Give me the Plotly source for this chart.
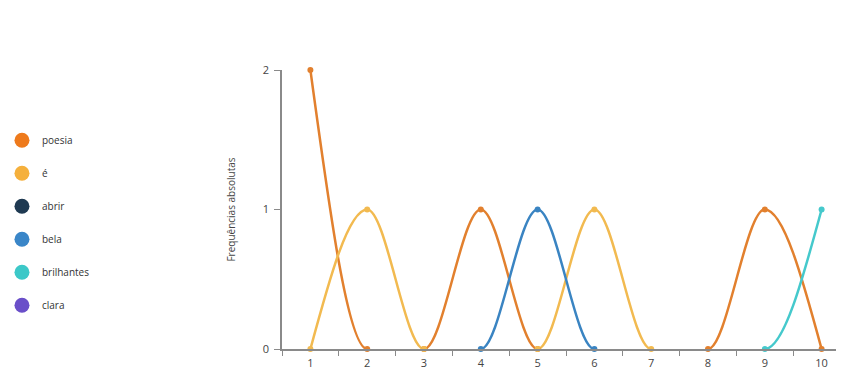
import plotly.graph_objects as go

# ---- data ----
positions = [1, 2, 3, 4, 5, 6, 7, 8, 9, 10]
position_labels = ["1", "2", "3", "4", "5", "6", "7", "8", "9", "10"]
series_names = ["poesia", "é", "abrir", "bela", "brilhantes", "clara"]
poesia = [2, 0, 0, 1, 0, 0, 0, 0, 1, 0]
e_word = [0, 1, 0, 0, 0, 1, 0, 0, 0, 0]
abrir = [0, 0, 0, 0, 0, 0, 0, 0, 0, 0]
bela = [0, 0, 0, 0, 1, 0, 0, 0, 0, 0]
brilhantes = [0, 0, 0, 0, 0, 0, 0, 0, 0, 1]
clara = [0, 0, 0, 0, 0, 0, 0, 0, 0, 0]
series_values = [poesia, e_word, abrir, bela, brilhantes, clara]
y_tick_values = [0, 1, 2]
y_title = "Frequências absolutas"

# ---- styles ----
line_colors = ["#E2802E", "#F2BA50", "#1F3A52", "#3A84C2", "#45C9CC", "#6A4FC9"]
legend_colors = ["#EE7A1C", "#F5B03C", "#1F3A52", "#3A86C8", "#3CC8C8", "#6A4FC9"]


def _sign(v):
    return -1 if v < 0 else 1


def monotone_tangents(xs, ys):
    """Tangents of a monotone cubic curve (same rule as d3.curveMonotoneX)."""
    n = len(xs)
    t = [0.0] * n
    for i in range(1, n - 1):
        h0, h1 = xs[i] - xs[i - 1], xs[i + 1] - xs[i]
        s0, s1 = (ys[i] - ys[i - 1]) / h0, (ys[i + 1] - ys[i]) / h1
        p = (s0 * h1 + s1 * h0) / (h0 + h1)
        t[i] = (_sign(s0) + _sign(s1)) * min(abs(s0), abs(s1), 0.5 * abs(p))
    h = xs[1] - xs[0]
    t[0] = (3 * (ys[1] - ys[0]) / h - t[1]) / 2
    h = xs[-1] - xs[-2]
    t[-1] = (3 * (ys[-1] - ys[-2]) / h - t[-2]) / 2
    return t


def curve_path(xs, ys):
    t = monotone_tangents(xs, ys)
    parts = []
    pen_at = None
    for i in range(len(xs) - 1):
        x0, y0, x1, y1 = xs[i], ys[i], xs[i + 1], ys[i + 1]
        if y0 == 0 and y1 == 0:
            pen_at = None
            continue
        if pen_at != i:
            parts.append(f"M {x0},{y0}")
        dx = (x1 - x0) / 3
        parts.append(
            f"C {x0 + dx},{y0 + dx * t[i]} {x1 - dx},{y1 - dx * t[i + 1]} {x1},{y1}"
        )
        pen_at = i + 1
    return " ".join(parts)


fig = go.Figure()

# legend entries
for k, name in enumerate(series_names):
    fig.add_trace(go.Scatter(
        x=[None], y=[None], mode="markers", name=name,
        legendgroup=name, showlegend=True,
        marker=dict(size=15, color=legend_colors[k]),
    ))

shapes = []
for k, name in enumerate(series_names):
    vals = series_values[k]
    path = curve_path(positions, vals)
    if path:
        shapes.append(dict(
            type="path", path=path, xref="x", yref="y", layer="below",
            line=dict(color=line_colors[k], width=2.5),
        ))
    # markers where the line is visible
    idx = [i for i in range(len(vals))
           if vals[i] != 0
           or (i > 0 and vals[i - 1] != 0)
           or (i < len(vals) - 1 and vals[i + 1] != 0)]
    if idx:
        fig.add_trace(go.Scatter(
            x=[positions[i] for i in idx], y=[vals[i] for i in idx],
            mode="markers", marker=dict(size=6, color=line_colors[k]),
            legendgroup=name, showlegend=False, name=name, cliponaxis=False,
        ))

fig.update_layout(
    width=844, height=369,
    margin=dict(l=274, r=2, t=62, b=28, autoexpand=False),
    paper_bgcolor="white", plot_bgcolor="white",
    font=dict(family="Open Sans, sans-serif", color="#333", size=10),
    shapes=shapes,
    legend=dict(
        x=-0.493, xanchor="left", y=0.80, yanchor="top",
        traceorder="grouped", tracegroupgap=14,
        font=dict(size=10, color="#333"),
        itemsizing="trace",
    ),
)

fig.update_xaxes(
    range=[0.5, 10.5], tickmode="array", tickvals=positions, ticktext=position_labels,
    ticks="", showgrid=False, zeroline=False,
    showline=True, linecolor="#8a8a8a", linewidth=1.5,
    minor=dict(ticks="outside", ticklen=5, tickcolor="#8a8a8a", tickwidth=1,
               tickmode="linear", tick0=0.5, dtick=1, showgrid=False),
    ticklabelstandoff=3,
    tickfont=dict(size=11, color="#444"),
)
fig.update_yaxes(
    range=[0, 2], tickvals=y_tick_values,
    showgrid=False, zeroline=False,
    showline=True, linecolor="#8a8a8a", linewidth=1.5,
    ticks="outside", ticklen=6, tickcolor="#8a8a8a", tickwidth=1,
    ticklabelstandoff=3,
    tickfont=dict(size=11, color="#444"),
    title=dict(text=y_title, font=dict(size=10, color="#444"), standoff=25),
)

fig.write_html("out.html")
